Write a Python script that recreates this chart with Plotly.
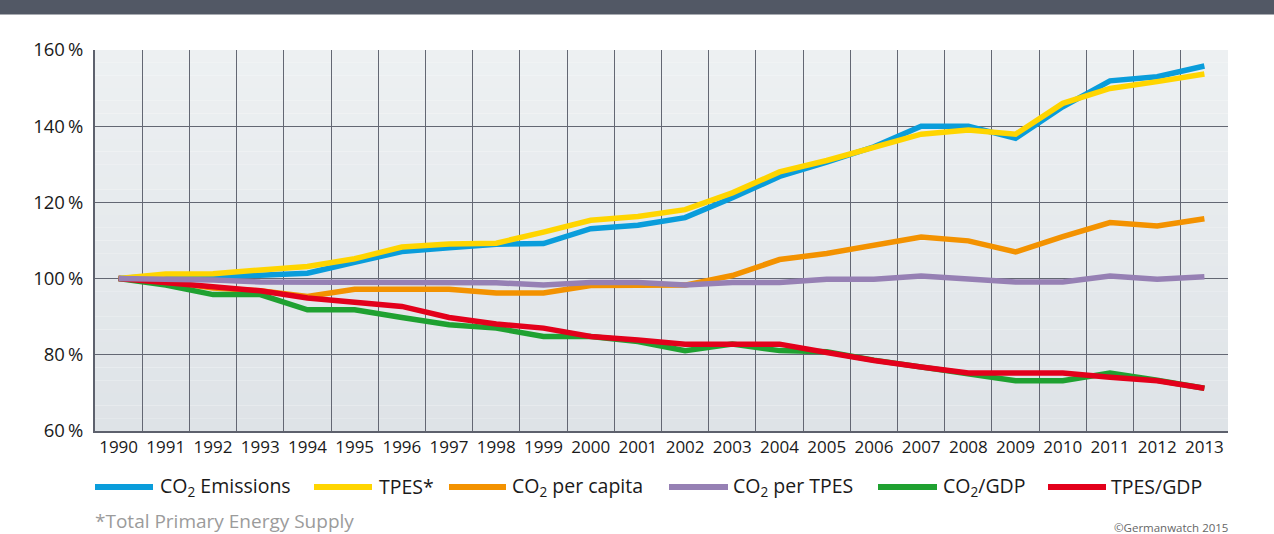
import plotly.graph_objects as go

years = list(range(1990, 2014))
year_labels = [str(y) for y in years]

co2_emissions = [100, 100.8, 100.4, 101, 101.4, 104.3, 107.1, 108.1, 109, 109.2, 113.1, 114, 116,
                 121.2, 126.8, 130.6, 134.6, 140, 140, 136.8, 145.1, 151.9, 153, 155.8]
tpes = [100, 101.2, 101.3, 102.4, 103.2, 105.2, 108.3, 109.1, 109.3, 112.2, 115.3, 116.3, 118.1,
        122.5, 128, 131, 134.6, 137.9, 139, 137.9, 146, 149.9, 151.7, 153.7]
co2_per_capita = [100, 99.3, 97.5, 96.8, 95.3, 97.2, 97.2, 97.2, 96.2, 96.2, 98.2, 98.3, 98.3,
                  100.8, 105, 106.6, 108.8, 110.9, 109.9, 107, 111, 114.7, 113.8, 115.7]
co2_per_tpes = [100, 99.9, 99.6, 99.1, 99, 99, 99, 99, 98.9, 98.3, 99, 99, 98.3,
                99, 99, 99.8, 99.8, 100.7, 100, 99.1, 99.1, 100.7, 99.8, 100.5]
co2_gdp = [100, 98.3, 95.8, 95.8, 91.8, 91.8, 89.8, 87.9, 87, 84.8, 84.8, 83.5, 81.1,
           82.8, 81.1, 80.8, 78.6, 76.9, 75.2, 73.2, 73.2, 75.2, 73.3, 71.2]
tpes_gdp = [100, 99, 97.7, 96.8, 94.9, 93.8, 92.7, 89.8, 88.1, 87, 84.8, 83.9, 82.8,
            82.8, 82.8, 80.6, 78.5, 76.8, 75.2, 75.2, 75.2, 74.1, 73.2, 71.2]

y_ticks = [60, 80, 100, 120, 140, 160]
y_tick_labels = ["60\u2009%", "80\u2009%", "100\u2009%", "120\u2009%", "140\u2009%", "160\u2009%"]

series_names = ["CO<sub>2</sub> Emissions", "TPES*", "CO<sub>2</sub> per capita",
                "CO<sub>2</sub> per TPES", "CO<sub>2</sub>/GDP", "TPES/GDP"]
series_values = [co2_emissions, tpes, co2_per_capita, co2_per_tpes, co2_gdp, tpes_gdp]
series_colors = ["#0a9ddb", "#ffd500", "#f39200", "#9680b4", "#1fa131", "#e3001b"]
draw_order = [0, 1, 2, 4, 5, 3]

FONT = "Open Sans"
LINE_W = 5.5

fig = go.Figure()
for i in draw_order:
    fig.add_trace(go.Scatter(
        x=years, y=series_values[i], mode="lines", name=series_names[i],
        line=dict(color=series_colors[i], width=LINE_W),
        showlegend=False, hoverinfo="skip",
    ))

shapes = []
# gradient plot background
n_bands = 30
top_rgb = (237, 240, 242)
bot_rgb = (222, 227, 231)
for k in range(n_bands):
    t = k / (n_bands - 1)
    r = round(bot_rgb[0] + (top_rgb[0] - bot_rgb[0]) * t)
    g = round(bot_rgb[1] + (top_rgb[1] - bot_rgb[1]) * t)
    b = round(bot_rgb[2] + (top_rgb[2] - bot_rgb[2]) * t)
    shapes.append(dict(type="rect", xref="x domain", yref="y domain",
                       x0=0, x1=1, y0=k / n_bands, y1=(k + 1) / n_bands,
                       fillcolor=f"rgb({r},{g},{b})", line=dict(width=0), layer="below"))

plot_l, plot_r, plot_t, plot_b = 95, 1228, 50, 431
W_plot = plot_r - plot_l
H_plot = plot_b - plot_t


def px_x(px):
    return (px - plot_l) / W_plot


def px_y(py):
    return (plot_b - py) / H_plot


# top dark band
shapes.append(dict(type="rect", xref="paper", yref="paper", x0=px_x(-5), x1=px_x(1280),
                   y0=px_y(14.5), y1=px_y(-5), fillcolor="#525865", line=dict(width=0), layer="above"))

annotations = []
# manual legend
legend_items = [(95, 153, 158), (314, 372, 377), (449, 506, 510),
                (669, 728, 731), (878, 937, 941), (1048, 1106, 1109)]

leg_y = 487
for i, (x0, x1, xt) in enumerate(legend_items):
    shapes.append(dict(type="line", xref="paper", yref="paper",
                       x0=px_x(x0), x1=px_x(x1), y0=px_y(leg_y), y1=px_y(leg_y),
                       line=dict(color=series_colors[i], width=6)))
    annotations.append(dict(xref="paper", yref="paper", x=px_x(xt), y=px_y(leg_y),
                            text=series_names[i], showarrow=False, xanchor="left", yanchor="middle",
                            font=dict(family=FONT, size=19.5, color="#1a1a1a")))

annotations.append(dict(xref="paper", yref="paper", x=px_x(93), y=px_y(521),
                        text="*Total Primary Energy Supply", showarrow=False,
                        xanchor="left", yanchor="middle",
                        font=dict(family=FONT, size=19, color="#9b9b9b")))
annotations.append(dict(xref="paper", yref="paper", x=px_x(1230), y=px_y(527),
                        text="©Germanwatch 2015", showarrow=False,
                        xanchor="right", yanchor="middle",
                        font=dict(family=FONT, size=11.5, color="#666666")))

grid_color = "#636773"

fig.update_layout(
    width=1274, height=534,
    margin=dict(l=plot_l, r=1274 - plot_r, t=plot_t, b=534 - plot_b, pad=0),
    paper_bgcolor="white", plot_bgcolor="rgba(0,0,0,0)",
    font=dict(family=FONT, color="#1a1a1a"),
    shapes=shapes, annotations=annotations,
    xaxis=dict(
        range=[1989.5, 2013.5], tickvals=years, ticktext=year_labels,
        showgrid=False, zeroline=False, ticks="",
        tickfont=dict(family=FONT, size=17, color="#1a1a1a"),
        showline=True, linecolor="#5d616d", linewidth=2,
        minor=dict(tick0=0.5, dtick=1, showgrid=True, gridcolor=grid_color, gridwidth=1.4, ticks=""),
        fixedrange=True,
    ),
    yaxis=dict(
        range=[60, 160], tickvals=y_ticks, ticktext=y_tick_labels,
        showgrid=True, gridcolor=grid_color, gridwidth=1.4, zeroline=False, ticks="",
        tickfont=dict(family=FONT, size=18.5, color="#1a1a1a"),
        showline=True, linecolor="#5d616d", linewidth=2,
        ticklabelstandoff=6,
        fixedrange=True,
    ),
)

fig.write_html("out.html", config={"displayModeBar": False},
               post_script="document.body.style.margin='0';document.body.style.overflow='hidden';")
